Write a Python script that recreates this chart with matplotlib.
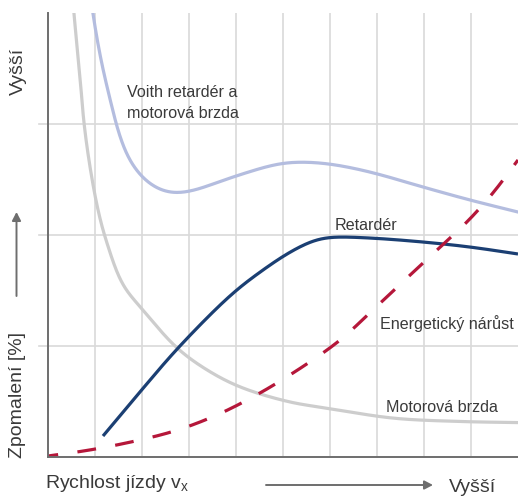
import matplotlib
matplotlib.use("Agg")
import matplotlib.pyplot as plt
import numpy as np

# Data in grid units (x: 0..10, y: 0..4)
motor_x = [0.47, 0.553, 0.681, 0.766, 0.894, 1.064, 1.234, 1.596, 2.021, 2.745, 3.383, 4.085,
           5.149, 5.94, 7.34, 8.77, 10.0]
motor_y = [4.4, 3.991, 3.423, 3.009, 2.613, 2.225, 1.955, 1.550, 1.324, 0.982, 0.784, 0.631,
           0.495, 0.44, 0.35, 0.32, 0.31]

voith_x = [0.83, 0.957, 1.128, 1.340, 1.532, 1.766, 2.128, 2.553, 2.979, 3.936, 4.936, 5.426,
           6.0, 6.851, 7.979, 8.979, 10.0]
voith_y = [4.4, 3.991, 3.577, 3.189, 2.883, 2.649, 2.468, 2.378, 2.387, 2.523, 2.645, 2.658,
           2.640, 2.568, 2.432, 2.315, 2.207]

ret_x = [1.170, 1.957, 2.766, 3.936, 4.574, 5.149, 5.723, 6.0, 6.851, 7.979, 8.979, 10.0]
ret_y = [0.189, 0.586, 0.982, 1.477, 1.685, 1.847, 1.964, 1.982, 1.973, 1.937, 1.892, 1.829]

energy_x = [0.0, 0.894, 1.957, 2.766, 3.596, 4.362, 5.149, 6.21, 6.85, 7.638, 8.277, 8.915,
            9.468, 10.0]
energy_y = [0.009, 0.063, 0.153, 0.243, 0.378, 0.541, 0.739, 1.05, 1.30, 1.613, 1.865, 2.117,
            2.378, 2.676]

plt.rcParams['font.family'] = ['Liberation Sans', 'DejaVu Sans']

W, H = 518, 496
fig = plt.figure(figsize=(W / 100, H / 100), dpi=100)
x0, x1, y0, y1 = 48, 518, 13, 457
ax = fig.add_axes([x0 / W, 1 - y1 / H, (x1 - x0) / W, (y1 - y0) / H])
ax.set_xlim(0, 10)
ax.set_ylim(0, 4)
ax.set_xticks([])
ax.set_yticks([])
for s in ['top', 'right']:
    ax.spines[s].set_visible(False)
for s in ['left', 'bottom']:
    ax.spines[s].set_color('#6e6e6e')
    ax.spines[s].set_linewidth(1.4)
    ax.spines[s].set_zorder(5)

grid_c = '#d9d9d9'
for gx in range(1, 10):
    ax.axvline(gx, color=grid_c, lw=1.2, zorder=0)
for gy in [1, 2, 3]:
    ax.plot([-9 / 47, 10], [gy, gy], color=grid_c, lw=1.2, zorder=0, clip_on=False)

SX, SY = 47.0, 111.0  # pixel size of one grid unit


def smooth(xs, ys, alpha=0.5, sigma=7.0):
    """Centripetal Catmull-Rom through the points, then light Gaussian smoothing
    along arc length (pixel-scaled space)."""
    pts = np.column_stack([np.asarray(xs, float) * SX, np.asarray(ys, float) * SY])
    P = np.vstack([2 * pts[0] - pts[1], pts, 2 * pts[-1] - pts[-2]])
    out = []
    for i in range(1, len(P) - 2):
        p0, p1, p2, p3 = P[i - 1], P[i], P[i + 1], P[i + 2]
        t0 = 0.0
        t1 = t0 + np.linalg.norm(p1 - p0) ** alpha
        t2 = t1 + np.linalg.norm(p2 - p1) ** alpha
        t3 = t2 + np.linalg.norm(p3 - p2) ** alpha
        t = np.linspace(t1, t2, 60, endpoint=False)[:, None]
        a1 = (t1 - t) / (t1 - t0) * p0 + (t - t0) / (t1 - t0) * p1
        a2 = (t2 - t) / (t2 - t1) * p1 + (t - t1) / (t2 - t1) * p2
        a3 = (t3 - t) / (t3 - t2) * p2 + (t - t2) / (t3 - t2) * p3
        b1 = (t2 - t) / (t2 - t0) * a1 + (t - t0) / (t2 - t0) * a2
        b2 = (t3 - t) / (t3 - t1) * a2 + (t - t1) / (t3 - t1) * a3
        c = (t2 - t) / (t2 - t1) * b1 + (t - t1) / (t2 - t1) * b2
        out.append(c)
    out.append(pts[-1:])
    a = np.vstack(out)
    seg = np.hypot(*np.diff(a, axis=0).T)
    s = np.concatenate([[0], np.cumsum(seg)])
    ss = np.append(np.arange(0, s[-1], 1.0), s[-1])
    r = np.column_stack([np.interp(ss, s, a[:, 0]), np.interp(ss, s, a[:, 1])])
    k = int(3 * sigma)
    pad_l = 2 * r[0] - r[1:k + 1][::-1]
    pad_r = 2 * r[-1] - r[-k - 1:-1][::-1]
    rp = np.vstack([pad_l, r, pad_r])
    g = np.exp(-0.5 * (np.arange(-k, k + 1) / sigma) ** 2)
    g /= g.sum()
    sx = np.convolve(rp[:, 0], g, mode='valid')
    sy = np.convolve(rp[:, 1], g, mode='valid')
    return sx / SX, sy / SY


lw = 2.3
ax.plot(*smooth(motor_x, motor_y, sigma=7), color='#cdcdcd', lw=lw, zorder=2,
        solid_capstyle='butt')
ax.plot(*smooth(voith_x, voith_y, sigma=11), color='#b4bddf', lw=lw, zorder=2)
ax.plot(*smooth(ret_x, ret_y, sigma=11), color='#1b3f73', lw=lw, zorder=3,
        solid_capstyle='butt')
ax.plot(*smooth(energy_x, energy_y, sigma=10), color='#b5173a', lw=lw, zorder=3,
        linestyle=(2.7, (5.9, 6.1)), dash_capstyle='butt')

tc = '#3a3a3a'
fs = 11.6
ax.text(1.68, 3.19, 'Voith retardér a\nmotorová brzda', fontsize=fs, color=tc,
        ha='left', va='center', linespacing=1.55)
ax.text(6.1, 2.09, 'Retardér', fontsize=fs, color=tc, ha='left', va='center')
ax.text(7.06, 1.2, 'Energetický nárůst', fontsize=fs, color=tc, ha='left', va='center')
ax.text(7.2, 0.45, 'Motorová brzda', fontsize=fs, color=tc, ha='left', va='center')

fs2 = 14
fig.text(18 / W, 1 - 71 / H, 'Vyšší', rotation=90, fontsize=fs2, color=tc,
         ha='center', va='center')
fig.text(18 / W, 1 - 395 / H, 'Zpomalení [%]', rotation=90, fontsize=fs2, color=tc,
         ha='center', va='center')
fig.text(45 / W, 1 - 484 / H, 'Rychlost jízdy v$_\\mathregular{x}$', fontsize=fs2, color=tc,
         ha='left', va='center')
fig.text(449 / W, 1 - 487 / H, 'Vyšší', fontsize=fs2, color=tc, ha='left', va='center')

arrow_c = '#6e6e6e'
fig.patches.append(matplotlib.patches.FancyArrowPatch(
    (16.5 / W, 1 - 296 / H), (16.5 / W, 1 - 212 / H), transform=fig.transFigure,
    arrowstyle='-|>,head_length=5,head_width=2.6', color=arrow_c, lw=1.4,
    shrinkA=0, shrinkB=0))
fig.patches.append(matplotlib.patches.FancyArrowPatch(
    (266 / W, 1 - 485 / H), (433 / W, 1 - 485 / H), transform=fig.transFigure,
    arrowstyle='-|>,head_length=5,head_width=2.6', color=arrow_c, lw=1.4,
    shrinkA=0, shrinkB=0))

fig.savefig('out.png', dpi=100)
